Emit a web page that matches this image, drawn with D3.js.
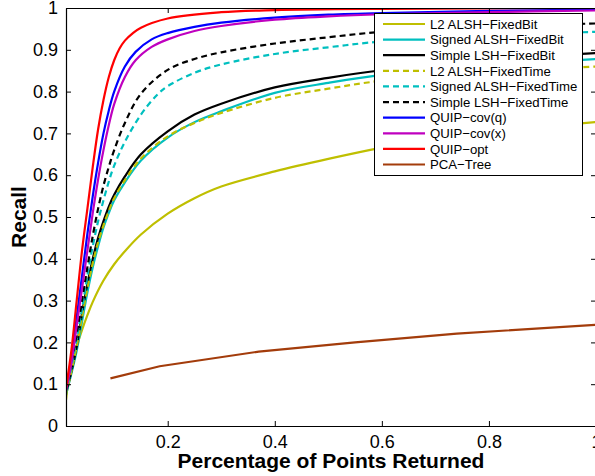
<!DOCTYPE html>
<html>
<head>
<meta charset="utf-8">
<script src="https://cdn.jsdelivr.net/npm/d3@7"></script>
<style>
  html, body { margin: 0; padding: 0; background: #fff; }
  svg { display: block; }
  text { font-family: "Liberation Sans", Arial, Helvetica, sans-serif; }
</style>
</head>
<body>
<div id="chart"></div>
<script>
// Recall vs. fraction of points returned, for each retrieval method.
const seriesNames = [
  "L2 ALSH\u2212FixedBit",
  "Signed ALSH\u2212FixedBit",
  "Simple LSH\u2212FixedBit",
  "L2 ALSH\u2212FixedTime",
  "Signed ALSH\u2212FixedTime",
  "Simple LSH\u2212FixedTime",
  "QUIP\u2212cov(q)",
  "QUIP\u2212cov(x)",
  "QUIP\u2212opt",
  "PCA\u2212Tree"
];
const seriesColors = ["#bfbf00", "#00bfbf", "#000000", "#bfbf00", "#00bfbf", "#000000",
                      "#0000ff", "#bf00bf", "#ff0000", "#a33c0b"];
const seriesDashed = [false, false, false, true, true, true, false, false, false, false];

// [fraction returned, recall]
const l2FixedBit = [[0.01,0.062],[0.0125,0.09],[0.015,0.11],[0.02,0.142],[0.03,0.19],[0.04,0.23],
  [0.05,0.265],[0.06,0.297],[0.08,0.348],[0.10,0.387],[0.12,0.418],[0.15,0.458],[0.2,0.508],
  [0.25,0.545],[0.3,0.573],[0.4,0.609],[0.5,0.639],[0.6,0.666],[0.7,0.688],[0.8,0.704],
  [0.9,0.716],[1.0,0.727]];
const signedFixedBit = [[0.01,0.075],[0.02,0.125],[0.03,0.18],[0.04,0.25],[0.05,0.32],[0.06,0.38],
  [0.07,0.43],[0.08,0.475],[0.09,0.51],[0.10,0.54],[0.12,0.583],[0.15,0.635],[0.2,0.69],
  [0.25,0.727],[0.3,0.753],[0.4,0.797],[0.5,0.821],[0.6,0.84],[0.8,0.862],[1.0,0.878]];
const simpleFixedBit = [[0.01,0.08],[0.02,0.13],[0.03,0.19],[0.04,0.27],[0.05,0.34],[0.06,0.40],
  [0.07,0.45],[0.08,0.49],[0.09,0.525],[0.10,0.553],[0.12,0.597],[0.15,0.65],[0.2,0.705],
  [0.25,0.745],[0.3,0.771],[0.4,0.81],[0.5,0.833],[0.6,0.851],[0.8,0.874],[1.0,0.892]];
const l2FixedTime = [[0.01,0.075],[0.02,0.13],[0.03,0.19],[0.04,0.26],[0.05,0.33],[0.06,0.39],
  [0.07,0.44],[0.08,0.48],[0.09,0.515],[0.10,0.545],[0.12,0.588],[0.15,0.64],[0.2,0.693],
  [0.25,0.725],[0.3,0.749],[0.4,0.785],[0.5,0.807],[0.6,0.826],[0.8,0.845],[1.0,0.86]];
const signedFixedTime = [[0.01,0.08],[0.02,0.14],[0.03,0.21],[0.04,0.28],[0.05,0.36],[0.06,0.43],
  [0.07,0.49],[0.08,0.54],[0.09,0.585],[0.10,0.623],[0.12,0.68],[0.15,0.745],[0.18,0.792],
  [0.2,0.813],[0.25,0.845],[0.3,0.865],[0.4,0.89],[0.5,0.906],[0.6,0.92],[0.8,0.934],[1.0,0.943]];
const simpleFixedTime = [[0.01,0.085],[0.02,0.15],[0.03,0.22],[0.04,0.30],[0.05,0.38],[0.06,0.455],
  [0.07,0.52],[0.08,0.575],[0.09,0.62],[0.10,0.66],[0.12,0.725],[0.15,0.795],[0.2,0.852],
  [0.25,0.878],[0.3,0.894],[0.4,0.915],[0.5,0.93],[0.6,0.943],[0.8,0.955],[1.0,0.963]];
const quipCovQ = [[0.01,0.09],[0.02,0.16],[0.03,0.26],[0.04,0.36],[0.05,0.46],[0.06,0.55],
  [0.07,0.63],[0.08,0.70],[0.09,0.755],[0.10,0.80],[0.12,0.86],[0.14,0.895],[0.17,0.925],
  [0.2,0.94],[0.25,0.955],[0.3,0.965],[0.4,0.977],[0.5,0.984],[0.6,0.988],[0.8,0.993],[1.0,0.996]];
const quipCovX = [[0.01,0.085],[0.02,0.15],[0.03,0.24],[0.04,0.33],[0.05,0.42],[0.06,0.51],
  [0.07,0.59],[0.08,0.66],[0.09,0.72],[0.10,0.77],[0.12,0.835],[0.14,0.875],[0.17,0.907],
  [0.2,0.925],[0.25,0.945],[0.3,0.957],[0.4,0.972],[0.5,0.98],[0.6,0.985],[0.8,0.99],[1.0,0.994]];
const quipOpt = [[0.01,0.09],[0.02,0.18],[0.03,0.30],[0.04,0.42],[0.05,0.52],[0.06,0.62],
  [0.07,0.71],[0.08,0.78],[0.09,0.835],[0.10,0.875],[0.11,0.903],[0.12,0.922],[0.135,0.94],
  [0.15,0.953],[0.2,0.975],[0.3,0.99],[0.4,0.995],[0.6,0.998],[1.0,1.0]];
const pcaTree = [[0.093,0.114],[0.185,0.143],[0.37,0.178],[0.55,0.2],[0.74,0.221],[1.0,0.242]];

const seriesData = [l2FixedBit, signedFixedBit, simpleFixedBit, l2FixedTime, signedFixedTime,
                    simpleFixedTime, quipCovQ, quipCovX, quipOpt, pcaTree];

const xTicks = [0.2, 0.4, 0.6, 0.8, 1];
const yTicks = [0, 0.1, 0.2, 0.3, 0.4, 0.5, 0.6, 0.7, 0.8, 0.9, 1];

const W = 595, H = 476;
const plot = { left: 66, right: 596, top: 8, bottom: 426 };

const svg = d3.select("#chart").append("svg")
  .attr("width", W).attr("height", H);

const x = d3.scaleLinear().domain([0.01, 1]).range([plot.left, plot.right]);
const y = d3.scaleLinear().domain([0, 1]).range([plot.bottom, plot.top]);

const fmt = d => (d === 0 || d === 1) ? String(d) : d.toFixed(1);

// clip the curves to the axes box
svg.append("defs").append("clipPath").attr("id", "plotClip")
  .append("rect").attr("x", plot.left).attr("y", plot.top)
  .attr("width", plot.right - plot.left).attr("height", plot.bottom - plot.top);

const curves = svg.append("g").attr("clip-path", "url(#plotClip)");
seriesData.forEach((pts, i) => {
  const line = d3.line()
    .x(d => x(d[0])).y(d => y(d[1]))
    .curve(i === 9 ? d3.curveLinear : d3.curveCatmullRom.alpha(0.5));
  curves.append("path")
    .datum(pts)
    .attr("d", line)
    .attr("fill", "none")
    .attr("stroke", seriesColors[i])
    .attr("stroke-width", 2.2)
    .attr("stroke-dasharray", seriesDashed[i] ? "6,4" : null);
});

// axes with inward ticks on all four sides
const tickLen = 5;
const axisStyle = g => {
  g.select(".domain").attr("stroke", "#000").attr("stroke-width", 1.2);
  g.selectAll(".tick line").attr("stroke", "#000").attr("stroke-width", 1);
};

svg.append("g").attr("transform", `translate(0,${plot.bottom})`)
  .call(d3.axisBottom(x).tickValues(xTicks).tickFormat(fmt).tickSizeInner(-tickLen).tickSizeOuter(0).tickPadding(9))
  .call(axisStyle)
  .call(g => g.selectAll(".tick text").attr("font-size", 18).attr("fill", "#000")
    .attr("font-family", "'Liberation Sans', Arial, sans-serif"));

svg.append("g").attr("transform", `translate(0,${plot.top})`)
  .call(d3.axisTop(x).tickValues(xTicks).tickFormat("").tickSizeInner(-tickLen).tickSizeOuter(0))
  .call(axisStyle);

svg.append("g").attr("transform", `translate(${plot.left},0)`)
  .call(d3.axisLeft(y).tickValues(yTicks).tickFormat(fmt).tickSizeInner(-tickLen).tickSizeOuter(0).tickPadding(8))
  .call(axisStyle)
  .call(g => g.selectAll(".tick text").attr("font-size", 18).attr("fill", "#000")
    .attr("font-family", "'Liberation Sans', Arial, sans-serif"));

svg.append("g").attr("transform", `translate(${plot.right},0)`)
  .call(d3.axisRight(y).tickValues(yTicks).tickFormat("").tickSizeInner(-tickLen).tickSizeOuter(0))
  .call(axisStyle);

// axis titles
svg.append("text")
  .attr("x", (plot.left + plot.right) / 2).attr("y", 468)
  .attr("text-anchor", "middle").attr("font-size", 21).attr("font-weight", "bold")
  .text("Percentage of Points Returned");

svg.append("text")
  .attr("transform", `translate(26,${(plot.top + plot.bottom) / 2}) rotate(-90)`)
  .attr("text-anchor", "middle").attr("font-size", 21).attr("font-weight", "bold")
  .text("Recall");

// legend
const legend = svg.append("g");
legend.append("rect")
  .attr("x", 374.5).attr("y", 13.5).attr("width", 208).attr("height", 162)
  .attr("fill", "#fff").attr("stroke", "#000").attr("stroke-width", 1);

const rowY = d3.scaleLinear().domain([0, seriesNames.length - 1]).range([24, 164.5]);
seriesNames.forEach((name, i) => {
  const cy = rowY(i);
  legend.append("line")
    .attr("x1", 383).attr("x2", 425).attr("y1", cy).attr("y2", cy)
    .attr("stroke", seriesColors[i]).attr("stroke-width", 2.2)
    .attr("stroke-dasharray", seriesDashed[i] ? "6,4" : null);
  legend.append("text")
    .attr("x", 430).attr("y", cy + 4.7)
    .attr("font-size", 13.2).attr("fill", "#000")
    .text(name);
});
</script>
</body>
</html>
